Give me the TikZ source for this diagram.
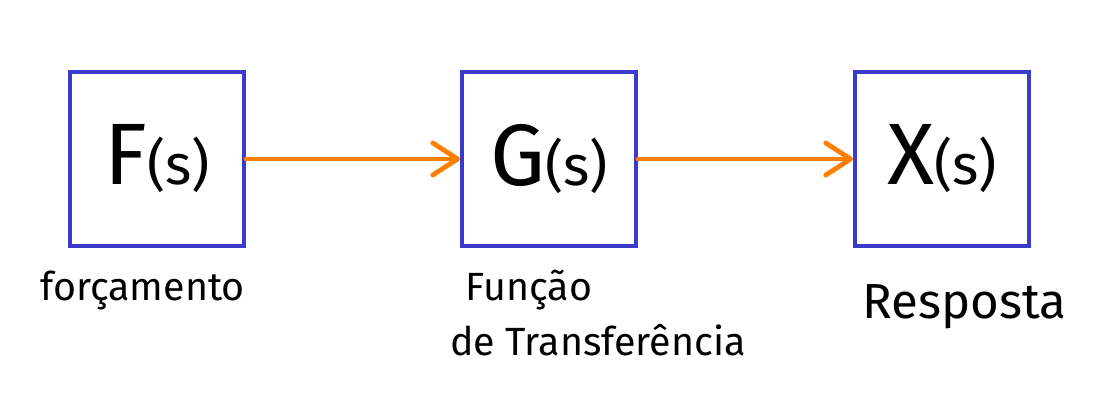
\documentclass[tikz,border=0pt]{standalone}
\usepackage{fontspec}
\setmainfont{Fira Sans}
\usetikzlibrary{positioning}
\usetikzlibrary{arrows.meta}

\definecolor{boxblue}{HTML}{3A3ACC}
\definecolor{arrorange}{HTML}{FF8000}

\tikzset{
  blockbox/.style={draw=boxblue, line width=2.8pt, minimum size=4.35cm, inner sep=0pt},
  flowarrow/.style={draw=arrorange, line width=3.4pt, line cap=round,
    -{Straight Barb[length=0.62cm, width=0.8cm, line cap=round, line join=round]}},
  tag/.style={anchor=base west, inner sep=0pt}
}

\newcommand{\bigsym}[1]{{\fontsize{62}{62}\selectfont #1}{\fontsize{40}{40}\selectfont (s)}}

\begin{document}
\begin{tikzpicture}[x=0.025cm, y=-0.025cm]

	\useasboundingbox (0,0) rectangle (1093,415);

	\foreach \x/\name/\sym in {157/fs/F, 549/gs/G, 942/xs/X} {
		\node[blockbox] (\name) at (\x,159) {\bigsym{\sym}};
	}

	\draw[flowarrow] (fs.east) -- (gs.west);
	\draw[flowarrow] (gs.east) -- (xs.west);

	\node[tag] (forc) at (40,300) {\fontsize{28}{28}\selectfont forçamento};
	\node[tag] (func) at (465,300) {\fontsize{28}{28}\selectfont Função};
	\node[tag] (transf) at (450,355) {\fontsize{28}{28}\selectfont de Transferência};
	\node[tag] (resp) at (862,318) {\fontsize{35}{35}\selectfont Resposta};

\end{tikzpicture}
\end{document}
